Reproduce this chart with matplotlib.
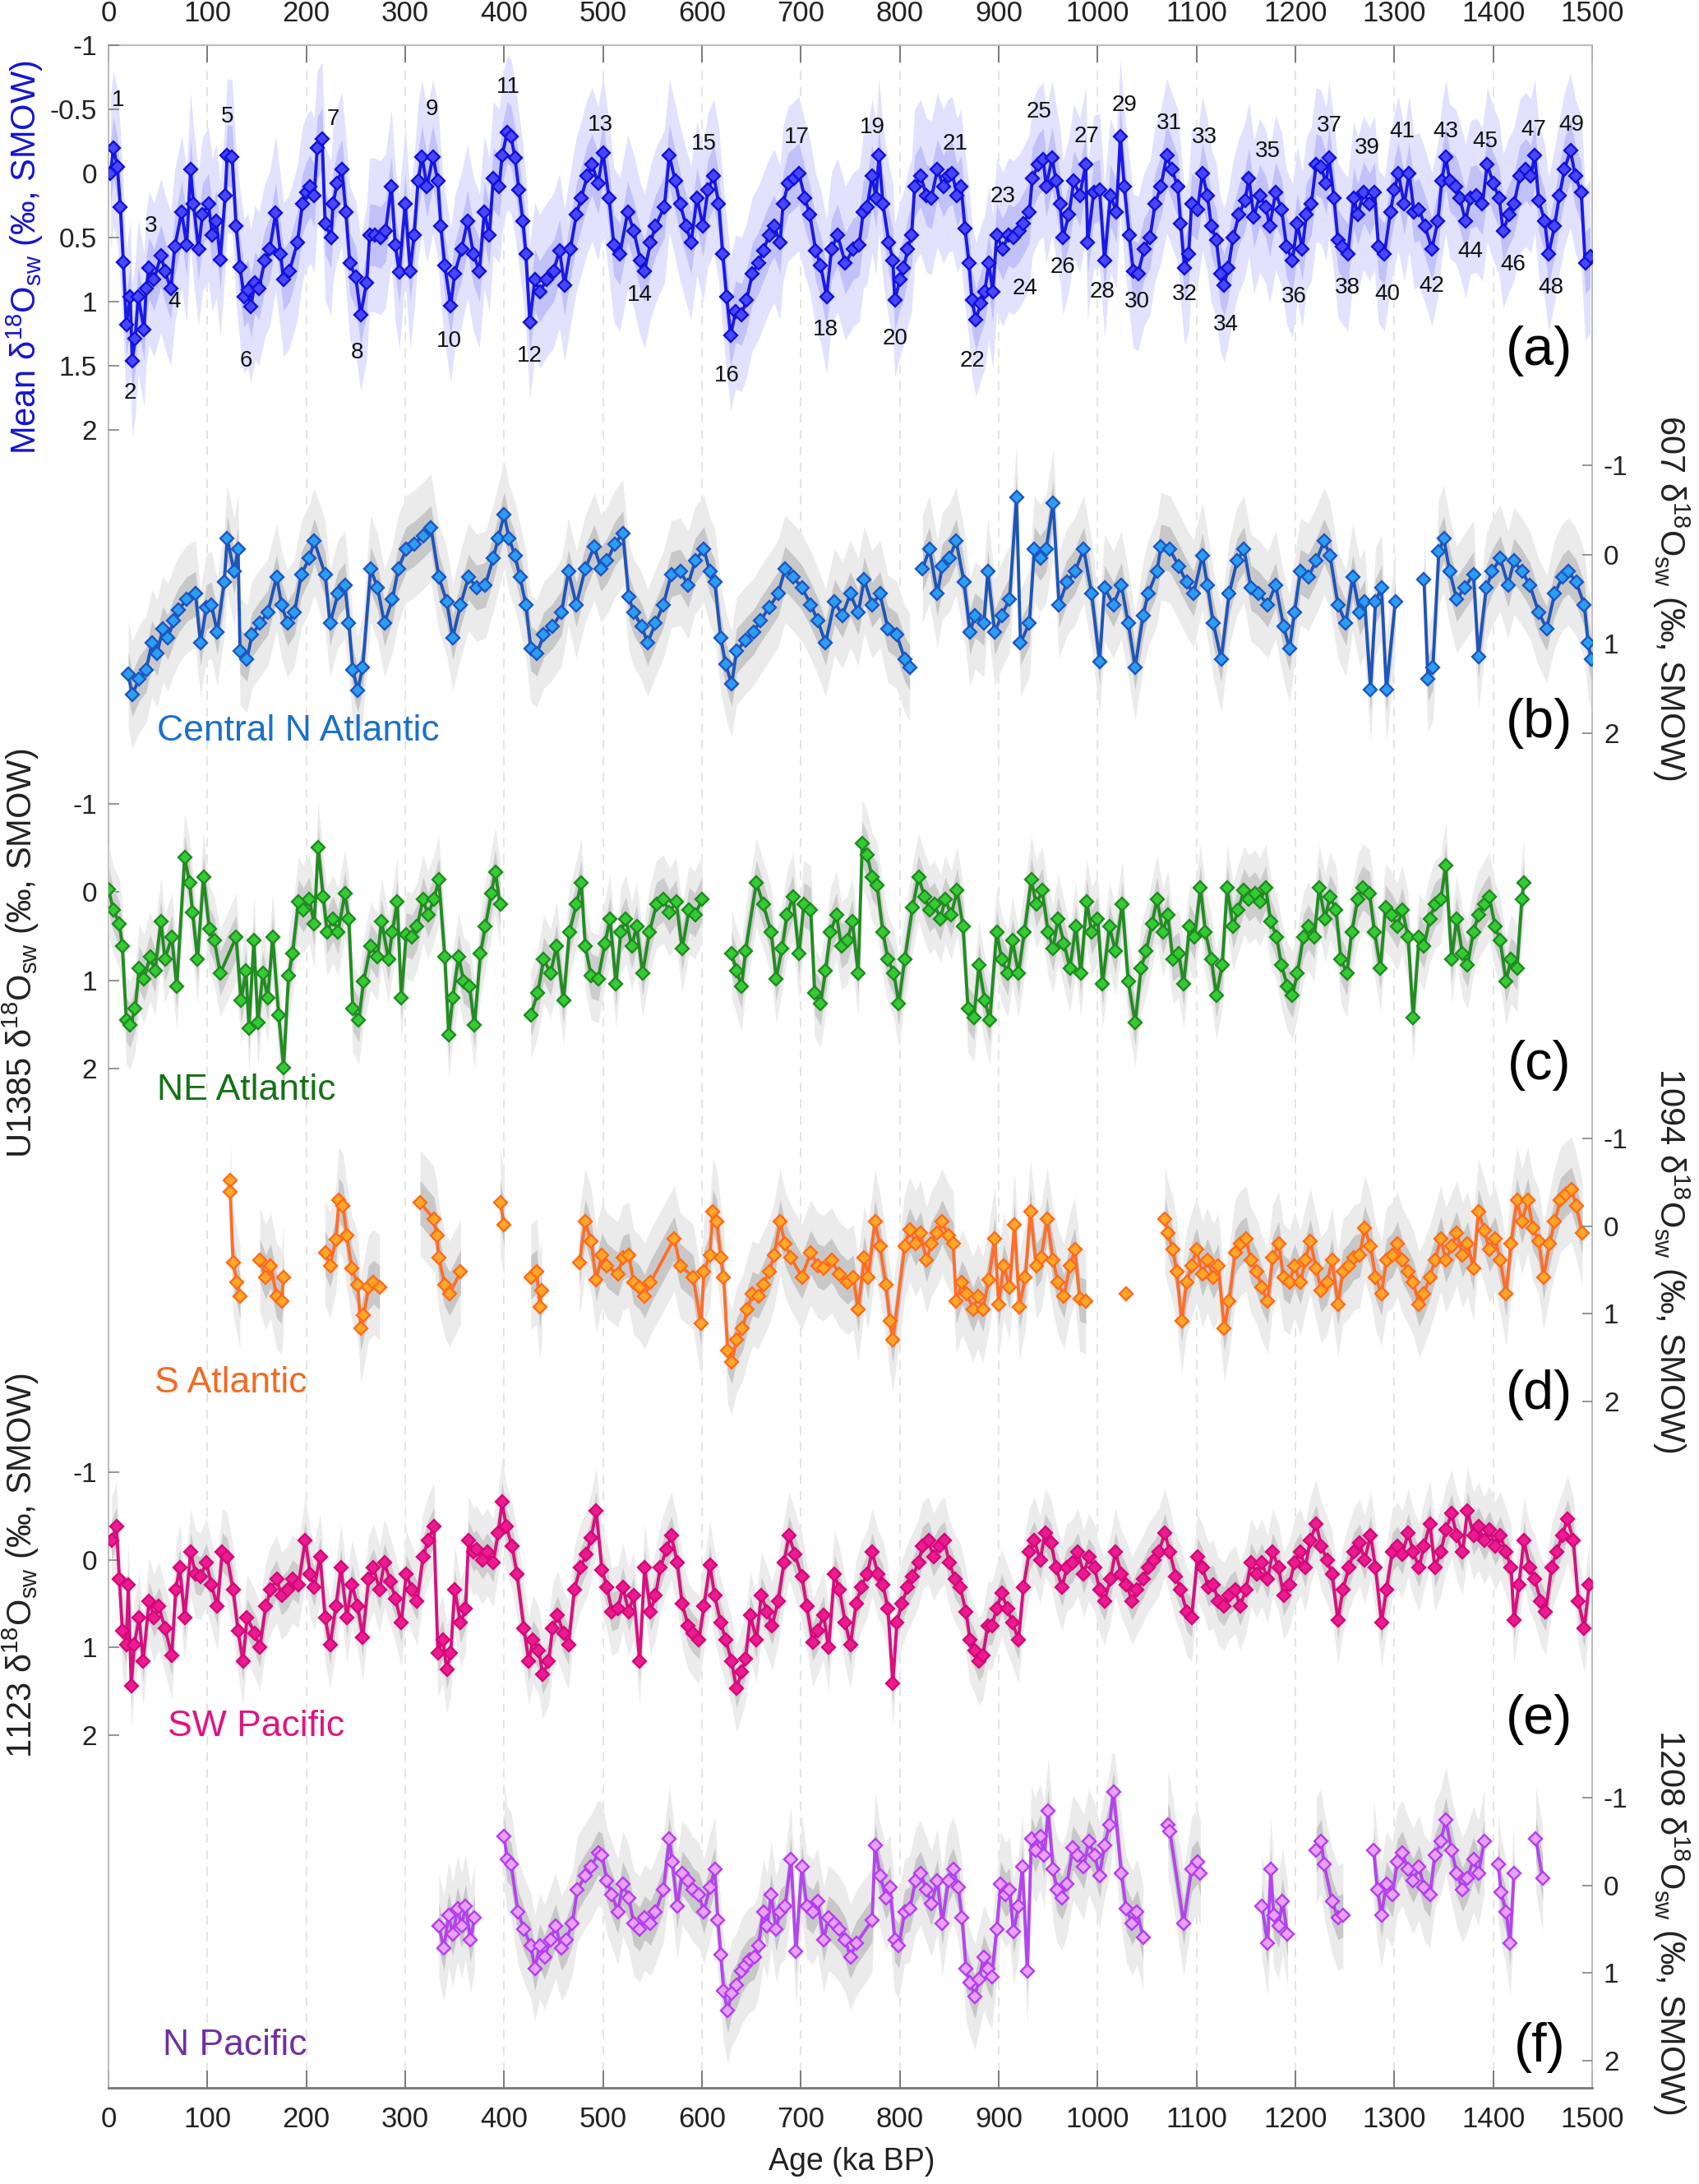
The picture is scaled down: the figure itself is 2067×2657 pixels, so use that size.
import numpy as np
import matplotlib
matplotlib.use('Agg')
import matplotlib.pyplot as plt

plt.rcParams['font.family'] = ['Liberation Sans', 'DejaVu Sans']
plt.rcParams['mathtext.fontset'] = 'custom'
plt.rcParams['mathtext.rm'] = 'Liberation Sans'
plt.rcParams['mathtext.it'] = 'Liberation Sans:italic'
plt.rcParams['mathtext.bf'] = 'Liberation Sans:bold'

# ---------------- data ----------------
mean_age = [2,5,9,12,15,18,22,24,27,30,36,38,41,46,53,57,63,67,74,79,83,86,91,95,101,105,109,113,118,120,125,129,133,137,141,144,148,152,158,163,169,174,177,183,191,196,200,204,208,211,216,219,225,227,231,236,240,244,250,255,261,264,269,275,280,286,290,294,300,305,309,313,317,322,328,333,336,340,346,350,357,363,369,375,380,385,389,395,398,403,407,411,415,419,422,426,431,436,443,450,456,461,467,473,478,484,489,495,500,506,511,517,525,531,538,542,548,553,562,567,573,578,584,589,595,601,606,612,617,621,625,629,634,640,645,651,657,662,668,673,679,682,687,693,698,704,709,715,720,726,731,737,745,753,759,763,767,772,776,779,783,789,793,795,800,804,808,812,815,821,827,832,838,844,849,853,858,862,866,870,873,877,882,886,890,894,898,904,910,915,921,925,931,934,940,945,948,954,958,962,965,971,976,982,988,990,996,1002,1007,1013,1019,1023,1027,1032,1036,1041,1047,1053,1058,1064,1070,1075,1081,1084,1088,1092,1095,1101,1106,1111,1115,1120,1124,1128,1132,1137,1143,1149,1153,1158,1164,1170,1174,1180,1186,1191,1197,1202,1207,1211,1216,1221,1226,1231,1234,1239,1243,1247,1253,1259,1263,1269,1275,1280,1284,1290,1296,1300,1304,1310,1315,1320,1325,1331,1338,1344,1348,1352,1356,1362,1366,1372,1377,1383,1389,1394,1400,1406,1410,1416,1421,1427,1433,1438,1442,1446,1452,1456,1462,1467,1472,1478,1483,1489,1493,1498]
mean_val = [0.0,-0.2,-0.05,0.26,0.69,1.18,0.96,1.46,1.29,0.96,1.22,0.9,0.74,0.83,0.64,0.76,0.9,0.57,0.3,0.56,-0.03,0.24,0.59,0.32,0.24,0.48,0.37,0.67,0.17,-0.14,-0.13,0.41,0.73,0.96,0.91,1.04,0.85,0.9,0.68,0.59,0.31,0.63,0.83,0.76,0.54,0.24,0.15,0.1,0.17,-0.2,-0.27,0.39,0.5,0.24,0.08,-0.03,0.3,0.7,0.81,1.1,0.85,0.48,0.48,0.5,0.45,0.1,0.56,0.77,0.24,0.76,0.48,0.06,-0.13,0.1,-0.13,0.06,0.41,0.72,1.03,0.78,0.59,0.37,0.63,0.76,0.3,0.48,0.04,0.1,-0.14,-0.32,-0.29,-0.12,0.13,0.37,0.63,1.16,0.83,0.92,0.83,0.76,0.6,0.87,0.59,0.32,0.19,0.02,-0.07,0.08,-0.16,0.19,0.56,0.63,0.3,0.45,0.68,0.76,0.54,0.41,0.26,-0.14,0.06,0.24,0.41,0.54,0.19,0.41,0.13,0.02,0.24,0.63,0.96,1.26,1.08,1.1,0.99,0.78,0.7,0.6,0.48,0.41,0.54,0.24,0.08,0.04,0.0,0.19,0.32,0.6,0.72,0.96,0.59,0.48,0.70,0.59,0.56,0.30,0.26,0.02,0.19,-0.14,0.24,0.54,0.68,0.99,0.83,0.74,0.59,0.48,0.1,0.02,0.17,0.19,-0.03,0.1,0.02,0.0,0.17,0.1,0.43,0.7,0.99,1.14,1.01,0.92,0.7,0.92,0.48,0.59,0.48,0.5,0.45,0.39,0.3,0.04,-0.07,-0.11,0.1,-0.12,0.06,0.24,0.5,0.32,0.06,0.17,-0.07,0.54,0.15,0.13,0.68,0.17,0.3,-0.29,0.1,0.48,0.76,0.78,0.59,0.5,0.24,0.1,-0.14,-0.03,0.1,0.39,0.74,0.63,0.24,0.28,0.0,0.17,0.41,0.52,0.78,0.87,0.74,0.5,0.32,0.21,0.04,0.34,0.17,0.26,0.41,0.15,0.28,0.57,0.68,0.39,0.59,0.32,0.24,-0.07,-0.05,0.08,-0.12,0.19,0.52,0.57,0.63,0.19,0.32,0.15,0.24,0.15,0.57,0.63,0.3,0.13,0.0,0.24,0.0,0.3,0.28,0.41,0.59,0.37,0.06,-0.13,0.06,0.1,0.19,0.37,0.19,0.17,0.24,-0.07,0.08,0.19,0.45,0.32,0.24,0.02,-0.03,0.02,-0.14,0.21,0.37,0.63,0.41,0.17,-0.03,-0.18,0.02,0.15,0.7,0.65]

# Central N Atlantic (607); None marks a gap
cna_age = [20,24,31,38,44,49,55,60,66,71,79,88,93,99,104,110,117,120,127,131,133,140,145,153,161,170,175,181,188,195,203,208,219,224,232,239,243,247,252,257,265,272,279,287,293,301,309,318,326,334,342,348,356,364,372,381,389,394,400,405,411,416,422,427,433,440,449,458,465,473,482,491,498,504,512,520,526,531,539,545,553,561,569,578,586,593,602,608,613,619,624,630,635,644,652,659,668,677,684,692,701,710,717,725,734,742,750,758,764,772,780,788,797,805,810,None,823,830,838,843,850,857,865,871,876,885,889,896,903,911,918,922,931,936,942,948,955,961,969,977,986,994,1002,1007,1016,1024,1031,1038,1046,1051,1060,1064,1073,1082,1090,1097,1106,1111,1117,1125,1133,1141,1148,1155,1163,1172,1180,1188,1194,1199,1205,1213,1221,1229,1235,1243,1251,1258,1265,1270,1276,1281,1287,1292,1301,None,1330,1334,1339,1345,1350,1356,1363,1371,1380,1385,1393,1399,1407,1415,1421,1429,1437,1446,1454,1462,1470,1476,1484,1492,1496,1499]
cna_val = [1.34,1.57,1.39,1.29,0.99,1.11,0.83,0.93,0.74,0.62,0.5,0.44,0.99,0.59,0.56,0.87,0.31,-0.18,0.19,-0.06,1.08,1.17,0.9,0.77,0.65,0.25,0.56,0.77,0.65,0.22,0.04,-0.15,0.22,0.77,0.44,0.34,0.77,1.29,1.52,1.26,0.16,0.37,0.77,0.5,0.16,-0.06,-0.12,-0.21,-0.3,0.25,0.53,0.93,0.56,0.25,0.37,0.34,0.04,-0.18,-0.45,-0.18,0.01,0.25,0.56,1.05,1.11,0.9,0.8,0.65,0.19,0.56,0.16,-0.09,0.16,0.07,-0.12,-0.24,0.47,0.65,0.8,0.99,0.77,0.56,0.22,0.19,0.34,0.07,-0.06,0.19,0.31,0.93,1.23,1.45,1.08,0.96,0.87,0.74,0.59,0.44,0.16,0.25,0.37,0.56,0.74,0.99,0.53,0.68,0.44,0.65,0.28,0.56,0.44,0.83,0.9,1.17,1.26,None,0.16,-0.06,0.44,0.13,0.04,-0.15,0.31,0.87,0.68,0.77,0.19,0.87,0.68,0.5,-0.64,0.99,0.77,-0.06,0.04,-0.06,-0.58,0.56,0.31,0.19,-0.06,0.44,1.2,0.37,0.56,0.34,0.77,1.26,0.68,0.44,0.19,-0.09,-0.06,0.13,0.31,0.44,0.01,0.34,0.77,1.17,0.44,0.07,-0.06,0.37,0.44,0.56,0.34,0.8,1.05,0.65,0.19,0.25,0.07,-0.15,0.01,0.56,0.77,0.25,0.65,0.53,1.51,0.53,0.37,1.51,0.53,None,0.28,1.39,1.26,-0.03,-0.18,0.19,0.5,0.37,0.22,1.14,0.37,0.19,0.04,0.34,0.07,0.19,0.34,0.65,0.83,0.44,0.25,0.19,0.31,0.56,0.99,1.17]

# NE Atlantic (U1385)
nea_age = [0,5,11,14,18,22,27,31,36,42,47,53,57,64,69,77,82,85,90,96,102,107,113,129,134,139,142,147,151,156,161,166,172,177,182,186,192,197,203,208,212,217,221,227,232,239,243,247,253,258,265,272,276,283,287,292,296,301,307,312,318,323,329,334,340,344,348,354,359,365,370,376,381,387,391,396,None,427,434,440,447,453,460,466,473,478,482,488,495,502,507,513,518,523,529,534,540,547,554,561,567,574,580,587,593,600,None,630,635,640,644,655,662,670,675,681,686,692,698,703,710,714,720,725,730,736,741,747,752,758,762,767,772,777,783,788,794,799,805,813,819,825,830,835,841,846,852,858,864,869,875,880,886,891,898,903,909,914,920,926,933,938,944,950,955,960,966,972,978,983,989,994,1000,1005,1012,1018,1025,1031,1038,1044,1049,1055,1060,1066,1071,1076,1082,1087,1093,1098,1104,1109,1115,1120,1126,1131,1137,1142,1148,1153,1159,1164,1170,1175,1181,1186,1192,1197,1202,1208,1213,1219,1224,1230,1235,1241,1246,1252,1257,1263,1268,1275,1280,1286,1291,1297,1303,1308,1314,1319,1325,1330,1336,1341,1347,1352,1358,1363,1369,1374,1380,1385,1391,1396,1402,1407,1413,1418,1424,1429,1431]
nea_val = [-0.03,0.2,0.36,0.61,1.45,1.51,1.32,0.86,0.98,0.73,0.89,0.33,0.76,0.51,1.07,-0.39,-0.11,0.23,0.76,-0.17,0.42,0.55,0.92,0.51,1.23,0.89,1.54,0.55,1.48,0.92,1.2,0.51,1.39,1.99,0.95,0.7,0.11,0.2,0.08,0.36,-0.51,0.05,0.45,0.3,0.45,0.02,0.3,1.32,1.45,1.01,0.61,0.73,0.33,0.76,0.45,0.11,1.2,0.48,0.51,0.39,0.08,0.26,0.08,-0.14,0.73,1.62,1.2,0.73,1.01,1.07,1.51,0.7,0.39,0.02,-0.23,0.14,None,1.39,1.14,0.76,0.92,0.61,1.23,0.45,0.14,-0.11,0.61,0.95,0.98,0.58,0.3,1.04,0.45,0.3,0.61,0.39,0.92,0.45,0.14,0.08,0.23,0.11,0.64,0.2,0.26,0.08,None,0.7,0.89,1.07,0.67,-0.11,0.14,0.45,0.98,0.64,0.26,0.05,0.7,0.14,0.2,1.14,1.26,0.89,0.45,0.26,0.61,0.55,0.33,0.92,-0.55,-0.42,-0.17,-0.08,0.45,0.76,0.92,1.26,0.76,0.17,-0.17,0.05,0.2,0.14,0.3,0.08,0.26,-0.02,0.39,1.32,1.42,0.83,1.23,1.45,0.45,0.76,0.92,0.55,0.92,0.45,-0.14,0.14,-0.02,0.45,0.64,0.3,0.58,0.86,0.39,0.92,0.11,0.45,0.3,1.04,0.39,0.67,0.14,1.01,1.48,0.86,0.67,0.36,0.08,0.45,0.26,0.76,0.7,1.04,0.39,0.51,-0.05,0.45,0.76,1.17,0.83,-0.05,0.39,0.2,-0.02,0.08,0.02,0.11,-0.05,0.33,0.51,0.83,1.07,1.17,0.92,0.51,0.39,0.51,-0.05,0.3,0.05,0.2,0.76,0.92,0.45,0.08,-0.05,0.02,0.45,0.86,0.17,0.26,0.39,0.2,0.51,1.42,0.51,0.61,0.3,0.14,0.08,-0.3,0.76,0.3,0.7,0.83,0.45,0.26,0.14,0.05,0.39,0.55,1.01,0.76,0.86,0.08,-0.11]

# S Atlantic (1094)
sa_age = [123,123,126,130,133,None,153,159,164,170,175,177,None,219,224,230,233,237,241,246,252,255,258,263,268,274,None,315,329,332,334,340,345,356,None,396,400,None,427,433,436,438,None,476,482,488,493,499,504,515,520,526,531,537,542,548,572,578,591,599,602,608,611,615,619,622,626,630,635,641,646,651,657,662,668,673,679,684,690,701,710,717,723,731,739,747,753,758,764,768,775,780,786,790,793,805,810,816,821,827,832,838,843,849,854,857,863,868,874,879,884,890,896,900,905,911,916,921,927,932,938,943,949,955,960,966,972,977,982,988,None,1029,None,1068,1071,1076,1080,1085,1090,1095,1100,1106,1111,1117,1122,1128,1133,1139,1144,1150,1155,1161,1166,1172,1177,1183,1188,1194,1199,1205,1210,1215,1221,1226,1232,1237,1243,1248,1254,1259,1265,1270,1276,1281,1287,1292,1298,1303,1308,1314,1319,1325,1330,1336,1341,1347,1352,1358,1363,1369,1374,1380,1385,1391,1396,1402,1407,1413,1418,1424,1429,1435,1440,1446,1451,1457,1462,1468,1473,1479,1484,1490]
sa_val = [-0.52,-0.39,0.42,0.64,0.8,None,0.39,0.58,0.45,0.8,0.86,0.58,None,0.3,0.45,0.15,-0.3,-0.23,0.11,0.48,0.67,1.17,1.02,0.7,0.64,0.7,None,-0.27,-0.08,0.11,0.36,0.67,0.77,0.52,None,-0.27,-0.02,None,0.58,0.52,0.92,0.73,None,0.42,-0.05,0.17,0.61,0.33,0.45,0.55,0.36,0.33,0.64,0.7,0.8,0.64,0.14,0.45,0.58,1.11,0.52,0.33,-0.17,-0.05,0.36,0.58,1.42,1.55,1.3,1.17,0.95,0.77,0.8,0.67,0.52,0.33,-0.05,0.2,0.36,0.58,0.3,0.45,0.48,0.39,0.55,0.64,0.58,0.95,0.36,0.58,-0.05,0.23,0.67,1.08,1.3,0.23,0.04,0.2,0.08,0.39,0.2,0.08,-0.05,0.11,0.2,0.86,0.64,0.77,0.95,0.8,0.95,0.61,0.14,0.89,0.45,0.7,-0.02,0.92,0.58,-0.17,0.45,0.36,-0.08,0.39,0.64,0.8,0.45,0.27,0.83,0.86,None,0.77,None,-0.08,0.08,0.27,0.52,1.08,0.64,0.45,0.27,0.55,0.39,0.58,0.45,1.17,0.86,0.3,0.2,0.14,0.39,0.52,0.7,0.86,0.36,0.2,0.58,0.64,0.45,0.64,0.39,0.17,0.48,0.73,0.64,0.39,0.89,0.52,0.45,0.36,0.33,0.02,0.23,0.58,0.77,0.39,0.33,0.2,0.39,0.52,0.64,0.89,0.77,0.58,0.39,0.14,0.39,0.23,0.08,0.33,0.2,0.48,-0.17,0.05,0.27,0.14,0.39,0.77,0.2,-0.3,-0.05,-0.3,0.02,0.17,0.58,0.2,-0.05,-0.3,-0.36,-0.42,-0.23,0.08]

# SW Pacific (1123)
swp_age = [3,8,11,14,18,20,23,26,31,35,41,46,51,57,64,68,72,77,83,88,93,99,104,110,115,120,126,131,136,140,148,153,159,164,170,175,181,186,192,199,204,208,214,219,224,230,235,241,246,252,257,263,268,274,279,285,290,296,301,307,312,318,323,329,333,338,342,346,350,356,361,364,369,372,378,383,389,394,398,402,408,413,420,425,429,435,439,445,449,454,460,465,471,477,483,488,493,499,504,509,515,520,526,531,537,542,548,553,558,564,569,575,580,586,591,597,602,608,613,619,624,630,635,640,644,649,655,660,666,671,677,683,688,694,701,706,712,717,723,728,734,739,745,750,756,761,767,772,778,783,788,793,797,802,808,813,819,823,829,834,840,845,850,856,861,867,871,876,880,884,889,893,898,903,909,914,920,925,931,936,942,947,953,958,964,969,975,980,986,991,997,1002,1007,1013,1018,1024,1029,1035,1040,1046,1051,1057,1062,1068,1073,1079,1084,1090,1095,1101,1106,1112,1117,1122,1128,1133,1139,1144,1150,1155,1161,1166,1172,1177,1183,1188,1194,1199,1205,1210,1215,1221,1226,1232,1237,1243,1248,1254,1259,1265,1270,1276,1281,1287,1292,1298,1303,1308,1314,1319,1325,1330,1336,1341,1347,1352,1358,1363,1369,1374,1380,1385,1391,1396,1402,1407,1413,1418,1421,1426,1431,1437,1442,1448,1453,1459,1464,1470,1475,1481,1486,1492,1497]
swp_val = [-0.22,-0.38,0.22,0.81,0.97,0.28,1.44,0.97,0.66,1.16,0.47,0.66,0.53,0.78,1.09,0.34,0.09,0.66,-0.09,0.16,0.19,0.03,0.28,0.53,-0.09,-0.03,0.34,0.81,1.16,0.66,0.84,1.0,0.53,0.34,0.22,0.41,0.34,0.22,0.28,-0.22,0.16,0.31,-0.03,0.66,0.97,0.53,0.09,0.66,0.28,0.53,0.88,0.22,0.09,0.34,0.03,0.25,0.44,0.72,0.16,0.34,0.47,-0.03,-0.22,-0.38,1.06,0.91,1.25,1.06,0.34,0.72,0.56,-0.22,-0.09,-0.12,0.0,-0.09,0.03,-0.31,-0.66,-0.38,-0.16,0.16,0.78,1.16,0.91,1.03,1.31,1.16,0.78,0.63,0.84,0.97,0.34,0.09,-0.06,-0.25,-0.56,0.12,0.31,0.59,0.56,0.31,0.59,0.41,1.16,0.09,0.59,0.41,0.09,-0.12,-0.28,0.03,0.5,0.75,0.84,0.91,0.53,0.06,0.41,0.72,0.91,1.16,1.47,1.28,1.13,0.63,0.91,0.41,0.59,0.75,0.47,0.03,-0.28,-0.06,0.19,0.53,0.94,0.81,0.63,1.0,0.16,0.34,0.72,0.97,0.5,0.31,0.16,-0.09,0.16,0.28,0.56,1.41,0.72,0.5,0.31,0.19,0.03,-0.16,-0.22,-0.03,-0.16,-0.22,0.03,0.22,0.31,0.59,0.91,1.03,1.16,1.09,0.75,0.75,0.56,0.38,0.56,0.72,0.91,0.31,-0.09,-0.22,0.0,-0.31,-0.19,0.09,0.31,0.09,0.03,-0.09,0.16,-0.03,0.09,0.34,0.47,0.22,-0.09,0.16,0.28,0.47,0.34,0.22,0.09,0.0,-0.09,-0.31,-0.09,0.19,0.34,0.59,0.66,-0.03,0.09,0.31,0.28,0.47,0.53,0.41,0.34,0.53,0.34,0.03,0.16,0.03,0.22,-0.09,0.09,0.41,0.28,0.03,-0.09,0.09,-0.22,-0.41,-0.16,0.0,0.16,0.69,0.34,0.09,-0.09,-0.19,0.0,-0.28,0.09,0.72,0.34,-0.09,-0.16,-0.06,-0.31,-0.09,0.09,-0.16,-0.41,0.09,-0.09,-0.34,-0.53,-0.28,-0.09,-0.56,-0.28,-0.38,-0.22,-0.34,-0.16,-0.28,-0.09,0.09,0.69,0.28,-0.22,0.09,0.22,0.47,0.59,0.09,-0.09,-0.28,-0.47,-0.22,0.47,0.78,0.28]

# N Pacific (1208)
np_age = [334,339,344,348,353,357,361,366,370,None,400,403,407,414,420,427,431,436,441,447,452,458,463,469,474,482,488,495,499,504,509,515,520,526,531,537,542,548,553,561,567,570,575,580,586,591,597,602,608,613,616,619,622,626,630,635,640,644,648,653,657,662,666,670,675,679,684,690,695,701,706,712,717,723,728,734,739,745,750,756,772,775,780,786,790,795,799,805,810,816,821,827,832,838,843,849,854,859,863,867,871,876,880,885,889,893,898,902,907,911,915,920,924,929,933,937,942,946,950,955,959,964,969,975,980,986,991,997,1002,1007,1012,1016,1024,1029,1035,1040,1046,None,1071,1073,1087,1095,1101,1104,None,1166,1172,1175,1178,1183,1187,1192,None,1221,1226,1229,1237,1243,1248,None,1279,1283,1287,1292,1298,1303,1308,1314,1319,1325,1330,1336,1341,1347,1352,1358,1363,1369,1374,1380,1385,1391,None,1405,1408,1413,1417,1421,None,1443,1450]
np_val = [0.46,0.72,0.34,0.56,0.27,0.46,0.24,0.62,0.37,None,-0.56,-0.3,-0.24,0.3,0.5,0.69,0.95,0.69,0.82,0.62,0.46,0.72,0.62,0.43,0.05,-0.11,-0.21,-0.37,-0.34,-0.05,0.11,0.3,-0.02,0.14,0.43,0.5,0.37,0.43,0.3,0.05,-0.53,-0.27,0.24,-0.14,-0.05,0.05,0.11,0.3,0.02,-0.18,0.4,0.79,1.2,1.43,1.23,1.14,0.98,0.91,0.85,0.82,0.69,0.3,0.46,0.11,0.5,0.3,0.24,-0.3,0.75,-0.21,0.24,0.3,0.18,0.62,0.37,0.43,0.5,0.62,0.82,0.66,0.4,-0.46,-0.11,0.14,0.02,0.62,0.69,0.3,0.27,-0.05,-0.14,0.05,0.21,-0.05,0.43,-0.05,-0.18,0.02,0.37,0.95,1.11,1.27,1.07,0.82,0.95,1.04,0.5,-0.02,0.11,0.05,0.53,0.24,-0.21,0.98,-0.53,-0.4,-0.56,-0.34,-0.85,-0.18,0.05,0.14,-0.02,-0.43,-0.34,-0.21,-0.5,-0.34,-0.11,-0.46,-0.69,-1.07,-0.14,0.27,0.43,0.3,0.59,None,-0.69,-0.62,0.43,-0.18,-0.27,-0.14,None,0.24,0.66,-0.18,0.34,0.46,0.18,0.56,None,-0.4,-0.5,-0.24,0.18,0.37,0.34,None,-0.4,0.05,0.34,-0.02,0.11,-0.27,-0.37,-0.18,-0.05,-0.21,0.02,0.11,-0.34,-0.5,-0.75,-0.4,-0.14,0.05,-0.08,-0.3,-0.14,-0.5,None,-0.24,0.08,0.3,0.66,-0.14,None,-0.53,-0.08]

mis_num = list(range(1, 50))
mis_age = [10,22,43,67,120,139,227,251,327,344,404,426,497,537,602,625,696,725,772,795,856,873,904,927,941,965,989,1005,1027,1040,1072,1088,1108,1130,1172,1199,1234,1253,1273,1293,1308,1338,1352,1377,1392,1420,1441,1458,1479]
mis_val = [-0.57,1.71,0.41,1.0,-0.44,1.46,-0.42,1.40,-0.50,1.31,-0.67,1.42,-0.38,0.95,-0.23,1.58,-0.28,1.22,-0.36,1.29,-0.23,1.46,0.18,0.9,-0.48,0.73,-0.29,0.92,-0.53,1.0,-0.39,0.94,-0.28,1.18,-0.17,0.96,-0.37,0.89,-0.2,0.94,-0.33,0.88,-0.33,0.61,-0.25,0.71,-0.34,0.89,-0.38]

age_ticks = list(range(0, 1501, 100))
mean_yticks = [-1, -0.5, 0, 0.5, 1, 1.5, 2]
mean_ylabels = ['-1', '-0.5', '0', '0.5', '1', '1.5', '2']
site_yticks = [-1, 0, 1, 2]
site_ylabels = ['-1', '0', '1', '2']

# ---------------- layout ----------------
W, H = 2067, 2657
X0, X1 = 132, 1937
fig = plt.figure(figsize=(W / 100, H / 100), dpi=100)


def rect(top, bottom):
    return [X0 / W, 1 - bottom / H, (X1 - X0) / W, (bottom - top) / H]


def panel_rect(px_m1, px_2, vtop, vbot):
    s = (px_2 - px_m1) / 3.0
    top = px_m1 + (vtop + 1) * s
    bottom = px_2 + (vbot - 2) * s
    return rect(top, bottom)


bg = fig.add_axes(rect(55, 2540))
bg.set_xlim(0, 1500)
bg.set_ylim(0, 1)
bg.set_yticks([])
bg.set_xticks(age_ticks)
bg.set_xticklabels([str(t) for t in age_ticks])
bg.tick_params(axis='x', direction='in', top=True, bottom=True, labeltop=True,
               labelbottom=True, length=15, width=1.2, color='#666666',
               labelsize=25, pad=16, labelcolor='#222222')
for t in age_ticks[1:-1]:
    bg.axvline(t, color='#e2e2e2', lw=1.3, ls=(0, (6, 5)), zorder=0)
for sp in ['left', 'right', 'top']:
    bg.spines[sp].set_color('#b5b5b5')
    bg.spines[sp].set_linewidth(1.3)
bg.spines['bottom'].set_color('#777777')
bg.spines['bottom'].set_linewidth(2)
fig.text(1036 / W, 1 - 2630 / H, 'Age (ka BP)', ha='center', va='center',
         fontsize=27, color='#222222')


def segments(ages, vals):
    segs, ca, cv = [], [], []
    for a, v in zip(ages, vals):
        if a is None or v is None:
            if ca:
                segs.append((np.array(ca, float), np.array(cv, float)))
            ca, cv = [], []
        else:
            ca.append(a)
            cv.append(v)
    if ca:
        segs.append((np.array(ca, float), np.array(cv, float)))
    return segs


def draw_series(ax, ages, vals, fc, ec, lc, band_in, band_out, s1, s2):
    for a, v in segments(ages, vals):
        ax.fill_between(a, v - s2, v + s2, color=band_out, lw=0, zorder=1)
        ax.fill_between(a, v - s1, v + s1, color=band_in, lw=0, zorder=2)
    for a, v in segments(ages, vals):
        ax.plot(a, v, '-', color=lc, lw=2.8, zorder=3)
        ax.plot(a, v, 'D', ms=8.5, mfc=fc, mec=ec, mew=1.7, zorder=4, ls='none')


def setup(ax, ylim, ticks, labels, side):
    ax.patch.set_alpha(0)
    ax.set_xlim(0, 1500)
    ax.set_ylim(*ylim)
    ax.set_xticks([])
    for sp in ax.spines.values():
        sp.set_visible(False)
    ax.set_yticks(ticks)
    ax.set_yticklabels(labels)
    if side == 'right':
        ax.yaxis.tick_right()
    ax.tick_params(axis='y', direction='in', length=9, width=1.1, color='#777777',
                   labelsize=24, pad=10, labelcolor='#222222')


def ylab(text, xpx, ypx, side, color='#222222'):
    fig.text(xpx / W, 1 - ypx / H, text, rotation=90 if side == 'left' else 270,
             ha='center', va='center', fontsize=30, color=color)


SUB = r'$^{\mathregular{18}}$O$_{\mathregular{sw}}$'

# (a) mean
axa = fig.add_axes(panel_rect(55, 523, -1.0, 2.08))
setup(axa, (2.08, -1.0), mean_yticks, mean_ylabels, 'left')
draw_series(axa, mean_age, mean_val, '#4747ff', '#1010d8', '#1a1ae6',
            '#c2c2fa', '#e2e2ff', 0.24, 0.6)
for n, a, v in zip(mis_num, mis_age, mis_val):
    axa.text(a, v, str(n), ha='center', va='center', fontsize=20, color='#111111', zorder=6)
ylab('Mean δ' + SUB + ' (‰, SMOW)', 30, 313, 'left', color='#1414d2')
fig.text(1873 / W, 1 - 427 / H, '(a)', ha='center', va='center', fontsize=48)

# (b) 607
axb = fig.add_axes(panel_rect(566, 892, -1.5, 2.3))
setup(axb, (2.3, -1.5), site_yticks, site_ylabels, 'right')
draw_series(axb, cna_age, cna_val, '#2a9ef5', '#1d55bf', '#1f55b8',
            '#c8c8c8', '#ebebeb', 0.25, 0.6)
ylab('607 δ' + SUB + ' (‰, SMOW)', 2033, 728, 'right')
fig.text(191 / W, 1 - 889 / H, 'Central N Atlantic', ha='left', va='center',
         fontsize=32, color='#1a6fcc')
fig.text(1873 / W, 1 - 880 / H, '(b)', ha='center', va='center', fontsize=48)

# (c) U1385
axc = fig.add_axes(panel_rect(978, 1300, -1.5, 2.35))
setup(axc, (2.35, -1.5), site_yticks, site_ylabels, 'left')
draw_series(axc, nea_age, nea_val, '#33cc33', '#1f8a1f', '#238c23',
            '#cdcdcd', '#ececec', 0.25, 0.5)
ylab('U1385 δ' + SUB + ' (‰, SMOW)', 25, 1160, 'left')
fig.text(191 / W, 1 - 1327 / H, 'NE Atlantic', ha='left', va='center',
         fontsize=32, color='#147214')
fig.text(1873 / W, 1 - 1296 / H, '(c)', ha='center', va='center', fontsize=48)

# (d) 1094
axd = fig.add_axes(panel_rect(1385, 1705, -1.5, 2.3))
setup(axd, (2.3, -1.5), site_yticks, site_ylabels, 'right')
draw_series(axd, sa_age, sa_val, '#ffa826', '#ff6a1a', '#ff6e2a',
            '#c8c8c8', '#ebebeb', 0.25, 0.6)
ylab('1094 δ' + SUB + ' (‰, SMOW)', 2033, 1533, 'right')
fig.text(188 / W, 1 - 1683 / H, 'S Atlantic', ha='left', va='center',
         fontsize=32, color='#f26a21')
fig.text(1873 / W, 1 - 1697 / H, '(d)', ha='center', va='center', fontsize=48)

# (e) 1123
axe = fig.add_axes(panel_rect(1791, 2111, -1.5, 2.3))
setup(axe, (2.3, -1.5), site_yticks, site_ylabels, 'left')
draw_series(axe, swp_age, swp_val, '#ee1a90', '#d2087a', '#d8107f',
            '#cdcdcd', '#ececec', 0.22, 0.5)
ylab('1123 δ' + SUB + ' (‰, SMOW)', 25, 1905, 'left')
fig.text(204 / W, 1 - 2101 / H, 'SW Pacific', ha='left', va='center',
         fontsize=32, color='#e0147f')
fig.text(1873 / W, 1 - 2092 / H, '(e)', ha='center', va='center', fontsize=48)

# (f) 1208
axf = fig.add_axes(panel_rect(2187, 2507, -1.5, 2.31))
setup(axf, (2.31, -1.5), site_yticks, site_ylabels, 'right')
draw_series(axf, np_age, np_val, '#e9a0ff', '#b43cf0', '#b246ec',
            '#c8c8c8', '#ebebeb', 0.25, 0.6)
ylab('1208 δ' + SUB + ' (‰, SMOW)', 2033, 2338, 'right')
fig.text(198 / W, 1 - 2488 / H, 'N Pacific', ha='left', va='center',
         fontsize=32, color='#7030a0')
fig.text(1873 / W, 1 - 2491 / H, '(f)', ha='center', va='center', fontsize=48)

fig.savefig('out.png', dpi=100)
